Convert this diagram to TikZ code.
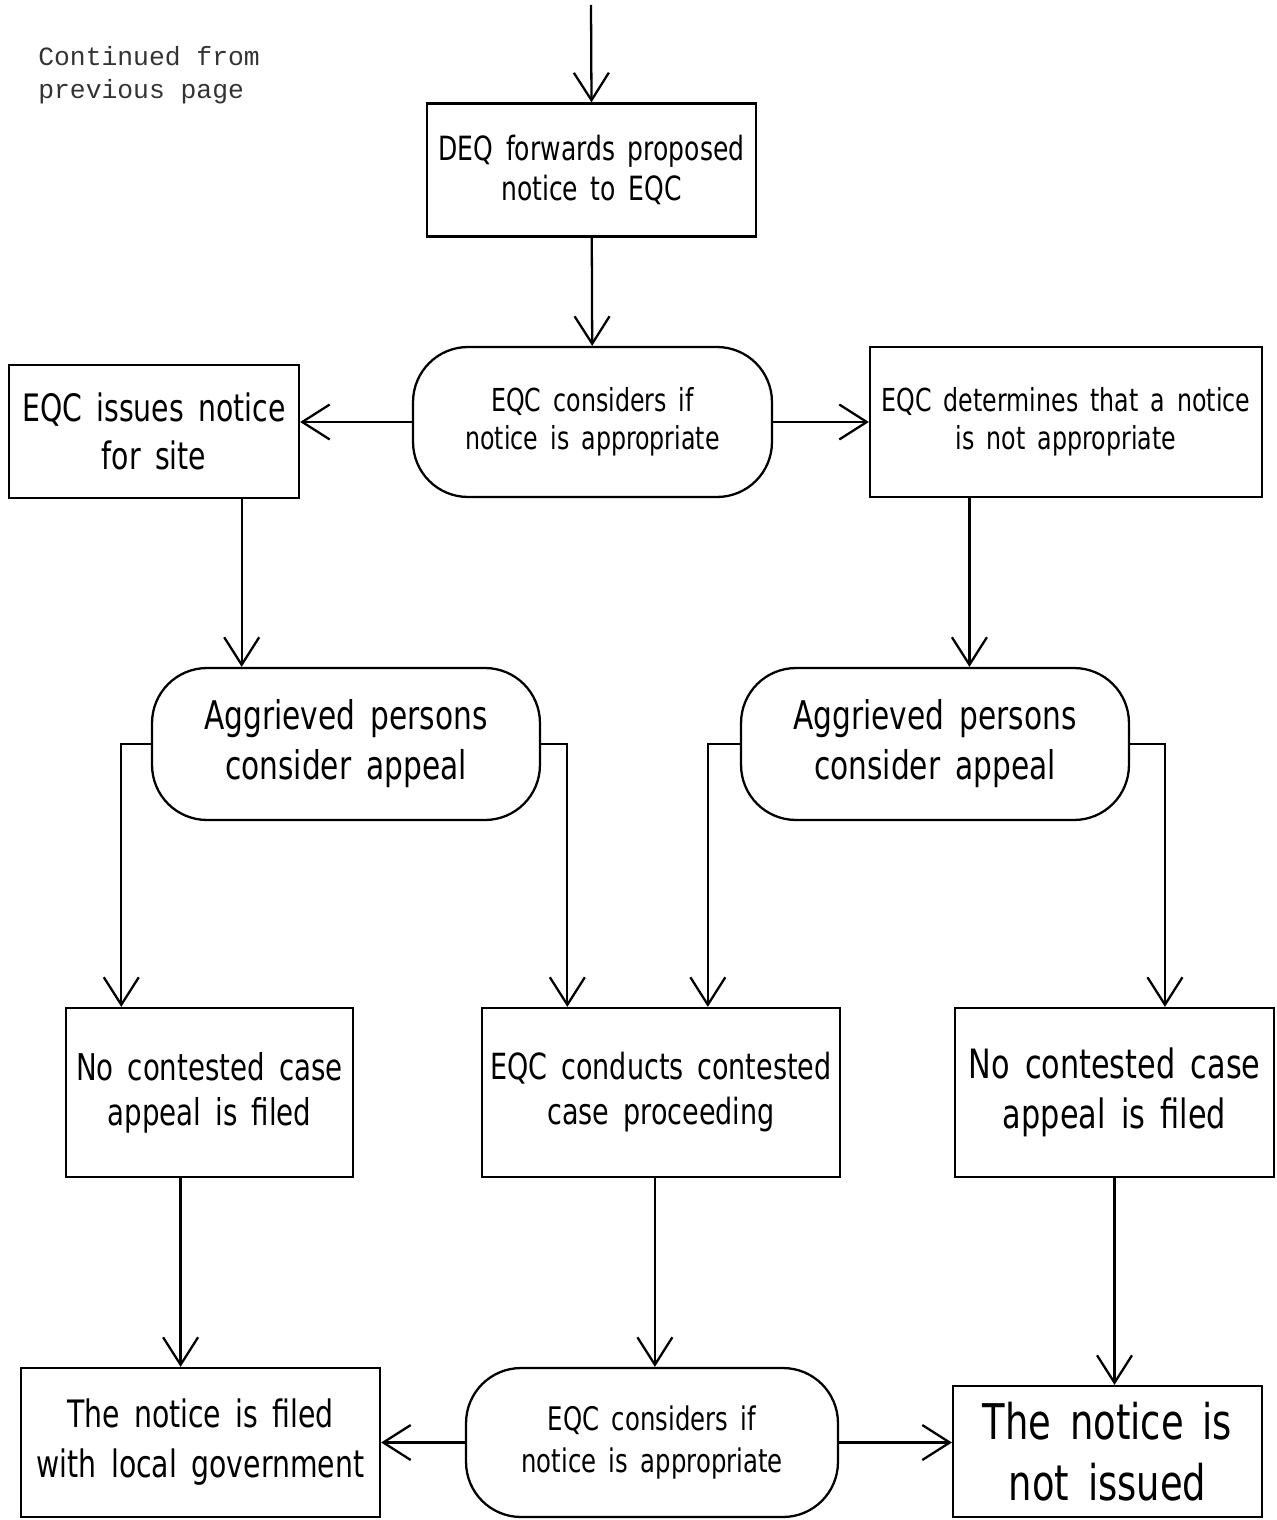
\documentclass[tikz,border=0pt]{standalone}
\usepackage{fontspec}
\usepackage{tikz}
\usetikzlibrary{arrows.meta}
\usetikzlibrary{calc}
\usetikzlibrary{positioning}
\newfontfamily\cadfont[FakeStretch=0.75, WordSpace=1.6]{DejaVu Sans}
\newfontfamily\notefont{Liberation Mono}
\newcommand{\cad}[2]{\cadfont\fontsize{#1}{#2}\selectfont}
\tikzstyle{box} = [draw, line width=1.3pt, rectangle, inner sep=0pt, align=center]
\tikzstyle{round} = [box, rounded corners=1.1cm]
\tikzstyle{flow} = [line width=1.3pt, -{Straight Barb[length=0.55cm, width=0.7cm, line width=1.3pt]}]

\begin{document}
\begin{tikzpicture}[x=0.02cm, y=-0.02cm]
\useasboundingbox (0,0) rectangle (1276,1520);
\node [anchor=north west, align=left, text=black!80, inner sep=0pt,
	font=\notefont\fontsize{15}{19}\selectfont] (note) at (38,46)
{Continued from\\previous page};
% first row
\coordinate (start) at (591,5);
\node [box, minimum width=6.58cm, minimum height=2.66cm, font=\cad{19}{23}]
(deq) at (591.5,170) {DEQ forwards proposed\\notice to EQC};
\node [round, minimum width=7.18cm, minimum height=3cm, font=\cad{18}{21.6}]
(cons1) at (592.5,422) {EQC considers if\\notice is appropriate};
\node [box, minimum width=5.8cm, minimum height=2.66cm, font=\cad{21.5}{27}]
(issue) at (154,431.5) {EQC issues notice\\for site};
\node [box, minimum width=7.84cm, minimum height=3cm, font=\cad{18}{21.6}]
(notapp) at (1066,422) {EQC determines that a notice\\is not appropriate};
% appeal
\node [round, minimum width=7.76cm, minimum height=3.04cm, font=\cad{22.5}{28.5}]
(aggL) at (346,744) {Aggrieved persons\\consider appeal};
\node [round, minimum width=7.76cm, minimum height=3.04cm, font=\cad{22.5}{28.5}]
(aggR) at (935,744) {Aggrieved persons\\consider appeal};
\node [box, minimum width=5.74cm, minimum height=3.38cm, font=\cad{21}{25.6}]
(nocaseL) at (209.5,1092.5) {No contested case\\appeal is filed};
\node [box, minimum width=7.16cm, minimum height=3.38cm, font=\cad{20.5}{25.6}]
(eqcproc) at (661,1092.5) {EQC conducts contested\\case proceeding};
\node [box, minimum width=6.38cm, minimum height=3.38cm, font=\cad{23}{28.5}]
(nocaseR) at (1114.5,1092.5) {No contested case\\appeal is filed};
% last row
\node [box, minimum width=7.18cm, minimum height=2.98cm, font=\cad{21.5}{28.5}]
(filed) at (200.5,1442.5) {The notice is filed\\with local government};
\node [round, minimum width=7.44cm, minimum height=2.98cm, font=\cad{18.5}{24}]
(cons2) at (652,1442.5) {EQC considers if\\notice is appropriate};
\node [box, minimum width=6.18cm, minimum height=2.62cm, font=\cad{28}{34.7}]
(notiss) at (1107.5,1451.5) {The notice is\\not issued};
% connectors
\draw [flow] (start) -- (deq.north);
\draw [flow] (deq) -- (cons1);
\draw [flow] (cons1.west) -- (cons1.west -| issue.east);
\draw [flow] (cons1.east) -- (cons1.east -| notapp.west);
\draw [flow] ($(issue.south west)!0.8!(issue.south east)$) coordinate (a1) -- (a1 |- aggL.north);
\draw [flow] ($(notapp.south west)!0.255!(notapp.south east)$) coordinate (a2) -- (a2 |- aggR.north);
\draw [flow] (aggL.west) -| ($(nocaseL.north west)!0.195!(nocaseL.north east)$);
\draw [flow] (aggL.east) -| ($(eqcproc.north west)!0.24!(eqcproc.north east)$);
\draw [flow] (aggR.west) -| ($(eqcproc.north west)!0.63!(eqcproc.north east)$);
\draw [flow] (aggR.east) -| ($(nocaseR.north west)!0.657!(nocaseR.north east)$);
\draw [flow] ($(nocaseL.south west)!0.4!(nocaseL.south east)$) coordinate (a3) -- (a3 |- filed.north);
\draw [flow] ($(eqcproc.south west)!0.483!(eqcproc.south east)$) coordinate (a4) -- (a4 |- cons2.north);
\draw [flow] (nocaseR.south) -- (nocaseR.south |- notiss.north);
\draw [flow] (cons2.west) -- (cons2.west -| filed.east);
\draw [flow] (cons2.east) -- (cons2.east -| notiss.west);
\end{tikzpicture}
\end{document}
